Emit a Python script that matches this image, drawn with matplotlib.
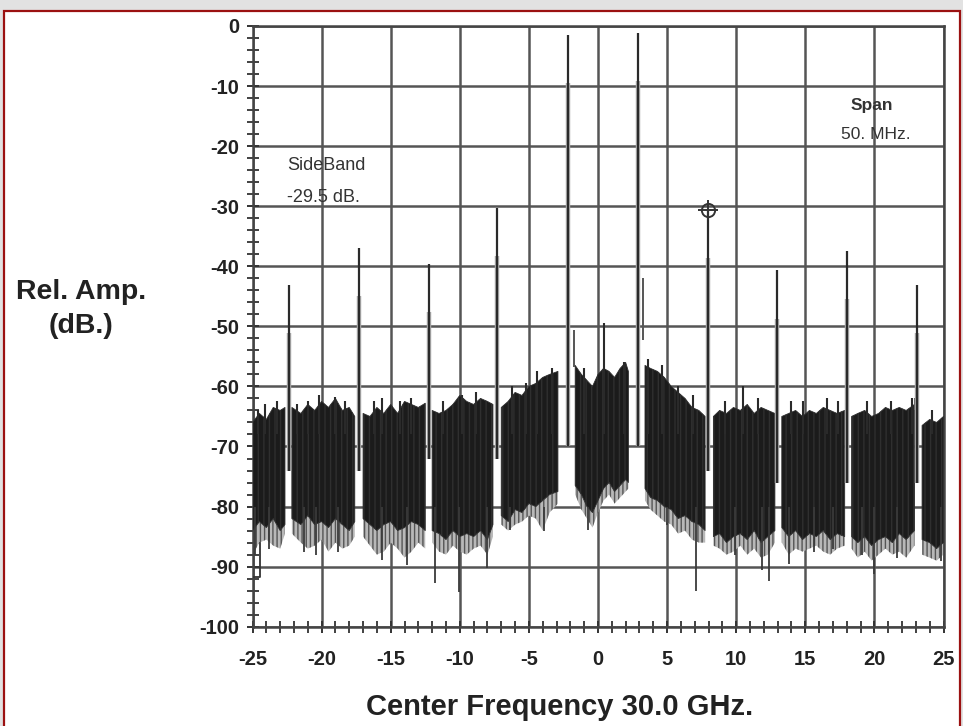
import numpy as np
import matplotlib
matplotlib.use("Agg")
import matplotlib.pyplot as plt
from matplotlib.patches import Rectangle

nan = np.nan

# noise floor in 0.5 MHz steps (nan = gap at a carrier)
noise_freq = [
    -25.0, -24.5, -24.0, -23.5, -23.0, -22.65, nan,
    -22.15, -21.5, -21.0, -20.5, -20.0, -19.5, -19.0, -18.5, -18.0, -17.6, nan,
    -17.0, -16.5, -16.0, -15.5, -15.0, -14.5, -14.0, -13.5, -13.0, -12.5, nan,
    -12.0, -11.5, -11.0, -10.5, -10.0, -9.5, -9.0, -8.5, -8.0, -7.6, nan,
    -7.0, -6.5, -6.0, -5.5, -5.0, -4.5, -4.0, -3.5, -2.9, nan,
    -1.65, -1.2, -0.8, -0.4, 0.0, 0.4, 0.8, 1.2, 1.6, 2.0, 2.2, nan,
    3.4, 3.8, 4.3, 4.8, 5.3, 5.8, 6.3, 6.8, 7.3, 7.75, nan,
    8.35, 8.8, 9.3, 9.8, 10.3, 10.8, 11.3, 11.8, 12.3, 12.8, nan,
    13.3, 13.8, 14.3, 14.8, 15.3, 15.8, 16.3, 16.8, 17.3, 17.85, nan,
    18.35, 18.8, 19.3, 19.8, 20.3, 20.8, 21.3, 21.8, 22.3, 22.9, nan,
    23.45, 24.0, 24.5, 25.0,
]
noise_top = [
    -66.0, -64.5, -65.5, -63.5, -64.0, -63.5, nan,
    -63.5, -64.5, -63.0, -64.0, -62.5, -63.5, -62.0, -64.0, -63.5, -65.0, nan,
    -64.5, -65.0, -63.5, -64.5, -63.0, -64.5, -62.5, -63.0, -63.5, -62.8, nan,
    -64.0, -64.5, -64.0, -63.0, -61.5, -62.5, -63.0, -62.0, -62.5, -63.0, nan,
    -63.5, -62.5, -61.0, -61.5, -60.0, -59.5, -58.5, -58.0, -57.5, nan,
    -56.5, -58.0, -59.0, -60.0, -58.0, -57.0, -57.5, -58.5, -57.0, -56.0, -57.5, nan,
    -56.5, -57.0, -57.5, -58.5, -60.0, -61.0, -62.0, -63.5, -64.0, -65.0, nan,
    -65.0, -64.0, -64.5, -63.5, -64.0, -63.0, -64.5, -63.5, -64.0, -64.5, nan,
    -65.0, -64.5, -64.0, -65.0, -64.0, -64.5, -63.5, -64.0, -64.5, -64.0, nan,
    -65.0, -64.5, -64.0, -65.0, -64.5, -63.5, -64.0, -63.5, -64.0, -63.0, nan,
    -66.5, -65.5, -66.0, -65.0,
]
noise_bottom = [
    -84.0, -82.5, -83.5, -82.0, -84.0, -83.0, nan,
    -82.0, -83.0, -81.5, -83.0, -82.5, -83.5, -82.0, -83.0, -84.0, -82.5, nan,
    -82.0, -83.0, -84.0, -83.0, -82.5, -84.0, -83.5, -82.5, -83.0, -84.0, nan,
    -84.0, -84.5, -85.5, -84.0, -85.0, -84.5, -85.0, -84.0, -85.5, -83.0, nan,
    -81.5, -82.5, -80.5, -81.0, -79.5, -80.0, -79.0, -78.0, -77.5, nan,
    -76.5, -78.0, -80.0, -81.0, -79.0, -77.0, -76.0, -77.5, -76.5, -75.5, -76.0, nan,
    -77.0, -78.5, -79.0, -80.0, -80.5, -82.0, -81.5, -82.5, -83.0, -84.0, nan,
    -85.0, -84.5, -86.0, -85.0, -84.5, -85.5, -84.0, -86.0, -85.0, -84.0, nan,
    -83.5, -85.0, -84.0, -85.5, -84.5, -85.0, -84.0, -85.5, -84.5, -85.0, nan,
    -85.0, -86.0, -85.0, -86.5, -85.5, -85.0, -86.0, -84.5, -85.5, -84.0, nan,
    -85.5, -86.0, -87.0, -86.0,
]
noise_low = [
    -88.0, -86.0, -85.5, -86.5, -87.0, -84.5, nan,
    -84.5, -86.0, -87.0, -86.5, -85.5, -87.5, -86.0, -87.0, -86.5, -85.0, nan,
    -85.0, -86.5, -88.0, -87.5, -86.0, -87.0, -88.5, -87.5, -86.0, -87.0, nan,
    -86.0, -87.5, -88.0, -86.5, -87.5, -88.0, -87.0, -86.5, -88.0, -85.0, nan,
    -83.0, -84.0, -83.0, -82.5, -81.5, -82.0, -84.0, -81.0, -79.5, nan,
    -78.0, -80.5, -82.0, -83.5, -81.0, -79.0, -78.0, -79.5, -78.5, -77.5, -77.0, nan,
    -79.0, -80.5, -81.5, -82.5, -83.0, -84.5, -84.0, -85.5, -86.0, -86.0, nan,
    -86.5, -87.0, -88.0, -87.5, -86.5, -88.0, -87.0, -88.5, -88.0, -86.0, nan,
    -86.0, -88.0, -87.0, -87.5, -87.0, -86.5, -87.5, -88.0, -87.0, -86.5, nan,
    -87.0, -88.5, -87.5, -89.0, -88.0, -87.0, -88.0, -87.5, -88.5, -86.5, nan,
    -88.0, -88.5, -89.0, -88.0,
]

# carriers / sidebands
peak_freq = [-22.34, -17.27, -12.25, -7.33, -2.15, 2.9, 7.96, 12.97, 18.04, 23.1]
peak_level = [-43.1, -36.9, -39.6, -30.3, -1.5, -1.1, -30.6, -40.7, -37.5, -43.1]
peak_base = [-74, -74, -72, -72, -70, -70, -74, -76, -76, -76]

# single spikes sticking out of the floor
up_freq = [-24.6, -24.1, -23.2, -21.8, -21.0, -20.2, -19.0, -18.3, -16.2, -15.6,
           -14.3, -13.5, -11.2, -9.85, -8.8, -6.2, -5.2, -4.4, -3.3, -1.0,
           0.45, 1.9, 3.6, 4.6, 5.8, 6.9, 9.2, 10.5, 11.6, 14.0, 14.8, 16.6,
           17.4, 19.5, 21.2, 22.75, 24.2]
up_level = [-64.0, -63.0, -62.5, -63.0, -62.5, -61.5, -61.7, -62.5, -62.5, -62.0,
            -62.5, -62.0, -62.5, -61.4, -61.0, -60.0, -59.5, -57.5, -57.0, -57.0,
            -49.5, -56.0, -55.5, -56.5, -60.0, -61.5, -62.5, -60.0, -62.0, -62.5,
            -62.5, -62.0, -62.5, -62.5, -62.5, -61.9, -64.0]
down_freq = [-24.8, -23.8, -21.3, -20.4, -18.8, -15.65, -13.84, -11.8, -10.06,
             -8.05, -6.4, -3.94, -0.74, 5.0, 7.12, 9.9, 11.87, 12.4, 13.8, 15.6,
             17.0, 19.08, 19.97, 21.6, 24.8]
down_level = [-88.0, -87.0, -87.5, -88.0, -87.5, -88.9, -89.7, -92.7, -94.2,
              -90.3, -83.9, -84.1, -83.9, -83.0, -94.0, -88.0, -90.5, -92.4, -89.6,
              -87.5, -87.0, -88.0, -91.2, -88.5, -89.0]

# shoulders next to some carriers
skirt_freq = [-12.16, -1.73, 3.28, 22.95]
skirt_top = [-57.0, -50.6, -42.0, -61.9]
skirt_bottom = [-62.0, -56.7, -52.2, -64.0]

# trace start at the left edge
edge_freq = [-25.0, -24.45, -24.45]
edge_level = [-91.8, -91.8, -86.0]

marker_freq = 7.96
marker_level = -30.6

x_ticks = list(range(-25, 26, 5))
y_ticks = list(range(0, -101, -10))

font = "Liberation Sans"
ink = "#222222"
plt.rcParams["hatch.linewidth"] = 1.0

fig = plt.figure(figsize=(9.63, 7.26), dpi=100, facecolor="#e2e2e2")
fig.patches.append(Rectangle((4 / 963, -0.02), 956 / 963, 1.02 - 11 / 726,
                             transform=fig.transFigure, facecolor="white",
                             edgecolor="#9b1111", linewidth=1.6, zorder=-5))

ax = fig.add_axes([252.5 / 963, 1 - 626.7 / 726, 691 / 963, 600.7 / 726])
ax.set_facecolor("white")

# lower, lighter part of the floor: vertical gray strokes
ax.fill_between(noise_freq, noise_low, noise_bottom, facecolor="#b8b8b8",
                edgecolor="#555555", hatch="||||", lw=0, zorder=2)
# dense dark core of the floor
ax.fill_between(noise_freq, noise_bottom, noise_top, facecolor="#1b1b1b",
                edgecolor="#2f2f2f", hatch="|||", lw=0.6, zorder=3)

ax.vlines(up_freq, -68, up_level, color="#2a2a2a", lw=1.5, zorder=3)
ax.vlines(down_freq, -80, down_level, color="#3a3a3a", lw=1.3, zorder=3)
ax.vlines(skirt_freq, skirt_bottom, skirt_top, color="#555555", lw=1.4, zorder=3)

peak_shoulder = [lv - 8 for lv in peak_level]
ax.vlines(peak_freq, peak_base, peak_shoulder, color="#ababab", lw=3.2, zorder=4)
ax.vlines(peak_freq, peak_base, peak_level, color="#2a2a2a", lw=1.6, zorder=5)

ax.plot(edge_freq, edge_level, color="#333333", lw=1.3, zorder=3)

ax.plot(marker_freq, marker_level, marker="o", ms=9.5, mfc="none", mec="#333333",
        mew=1.4, zorder=6)
ax.plot(marker_freq, marker_level, marker="+", ms=14, mec="#333333", mew=1.4, zorder=6)

ax.set_xlim(-25, 25)
ax.set_ylim(-100, 0)
ax.set_xticks(x_ticks)
ax.set_xticks(range(-25, 26), minor=True)
ax.set_yticks(y_ticks)
ax.set_yticks(range(0, -101, -2), minor=True)
ax.set_xticklabels([str(t) for t in x_ticks])
ax.set_yticklabels([str(t) for t in y_ticks])

ax.grid(True, which="major", color="#555555", lw=1.8, zorder=1)
ax.set_axisbelow(True)
for side in ["left", "bottom", "top", "right"]:
    ax.spines[side].set_color("#444444")
    ax.spines[side].set_linewidth(1.8)

ax.tick_params(which="major", direction="inout", length=9, width=1.4, color="#333333",
               labelsize=14.5, labelcolor=ink, pad=5)
ax.tick_params(which="minor", direction="inout", length=8, width=1.3, color="#333333")
ax.tick_params(axis="x", which="major", pad=12)
for lab in ax.get_xticklabels() + ax.get_yticklabels():
    lab.set_fontfamily(font)
    lab.set_fontweight("bold")

ax.text(-22.5, -23.3, "SideBand", fontsize=13, family=font, color="#333333",
        va="center", ha="left")
ax.text(-22.5, -28.5, "-29.5 dB.", fontsize=13, family=font, color="#333333",
        va="center", ha="left")
ax.text(19.8, -13.3, "Span", fontsize=12.5, family=font, color="#333333",
        va="center", ha="center", fontweight="bold")
ax.text(20.1, -18.0, "50. MHz.", fontsize=12.5, family=font, color="#333333",
        va="center", ha="center")

fig.text(81 / 963, 1 - 309 / 726, "Rel. Amp.\n(dB.)", fontsize=20.5, family=font,
         fontweight="bold", color=ink, ha="center", va="center", linespacing=1.4)
fig.text(560 / 963, 1 - 707 / 726, "Center Frequency 30.0 GHz.", fontsize=21,
         family=font, fontweight="bold", color=ink, ha="center", va="center")

fig.savefig("out.png", dpi=100, facecolor=fig.get_facecolor())
